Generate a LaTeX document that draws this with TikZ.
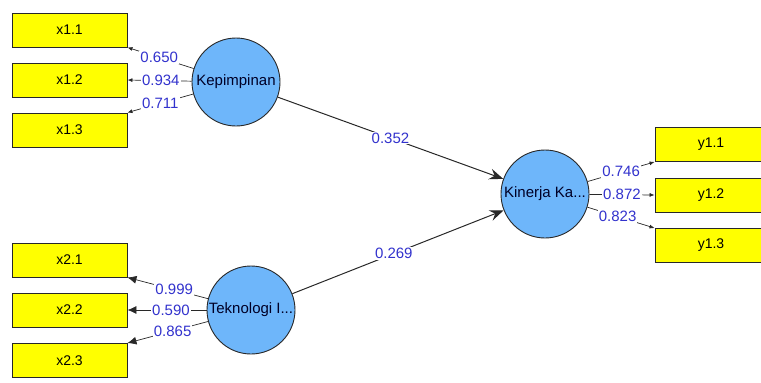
\documentclass[tikz,border=0pt]{standalone}
\usepackage{fontspec}
\setmainfont{Liberation Sans}
\usetikzlibrary{arrows.meta}
\definecolor{boxyellow}{RGB}{255,255,0}
\definecolor{circblue}{RGB}{110,182,250}
\definecolor{numblue}{RGB}{50,50,205}
\definecolor{edgegray}{RGB}{40,40,40}
\tikzset{
  ind/.style={draw=edgegray, line width=0.9pt, fill=boxyellow, minimum width=115pt, minimum height=34pt, inner sep=0pt, font=\fontsize{14}{14}\selectfont},
  lat/.style={circle, draw=edgegray, line width=0.9pt, fill=circblue, minimum size=88pt, inner sep=0pt, font=\fontsize{15}{15}\selectfont, text=black!85!blue},
  load/.style={draw=edgegray, line width=0.7pt, -{Latex[length=5pt,width=4pt]}},
  loadb/.style={draw=edgegray, line width=0.7pt, -{Latex[length=9pt,width=8pt]}},
  path/.style={draw=edgegray, line width=1pt, -{Stealth[length=14pt,width=11pt,inset=5pt]}},
  num/.style={fill=white, inner sep=1pt, text=numblue, font=\fontsize{15}{15}\selectfont},
}
\begin{document}
\begin{tikzpicture}[x=1pt,y=-1pt]
\useasboundingbox (0,0) rectangle (761,383);
\clip (0,0) rectangle (761,383);
% indicator boxes
\node[ind] (x11) at (69.5,30) {x1.1};
\node[ind] (x12) at (69.5,80) {x1.2};
\node[ind] (x13) at (69.5,130) {x1.3};
\node[ind] (x21) at (69.5,260) {x2.1};
\node[ind] (x22) at (69.5,310) {x2.2};
\node[ind] (x23) at (69.5,360.5) {x2.3};
\node[ind, minimum width=112pt] (y11) at (711,144.5) {y1.1};
\node[ind, minimum width=112pt] (y12) at (711,195) {y1.2};
\node[ind, minimum width=112pt] (y13) at (711,245.5) {y1.3};
% latent variables
\node[lat] (kep) at (236,82) {Kepimpinan};
\node[lat] (tek) at (251,310) {Teknologi I...};
\node[lat] (kin) at (545,194) {Kinerja Ka...};
% loadings Kepimpinan
\draw[load] (kep) -- node[num, pos=0.52] {0.650} (x11.south east);
\draw[load] (kep) -- node[num, pos=0.48] {0.934} (x12.east);
\draw[load] (kep) -- node[num, pos=0.5] {0.711} (x13.north east);
% loadings Teknologi
\draw[loadb] (tek) -- node[num, pos=0.42] {0.999} (x21.south east);
\draw[loadb] (tek) -- node[num, pos=0.45] {0.590} (x22.east);
\draw[loadb] (tek) -- node[num, pos=0.44] {0.865} (x23.north east);
% loadings Kinerja
\draw[load] (kin) -- node[num, pos=0.5] {0.746} (y11.south west);
\draw[load] (kin) -- node[num, pos=0.5] {0.872} (y12.west);
\draw[load] (kin) -- node[num, pos=0.45] {0.823} (y13.north west);
% structural paths
\draw[path] (kep) -- node[num, pos=0.5] {0.352} (kin);
\draw[path] (tek) -- node[num, pos=0.48] {0.269} (kin);
\end{tikzpicture}
\end{document}
